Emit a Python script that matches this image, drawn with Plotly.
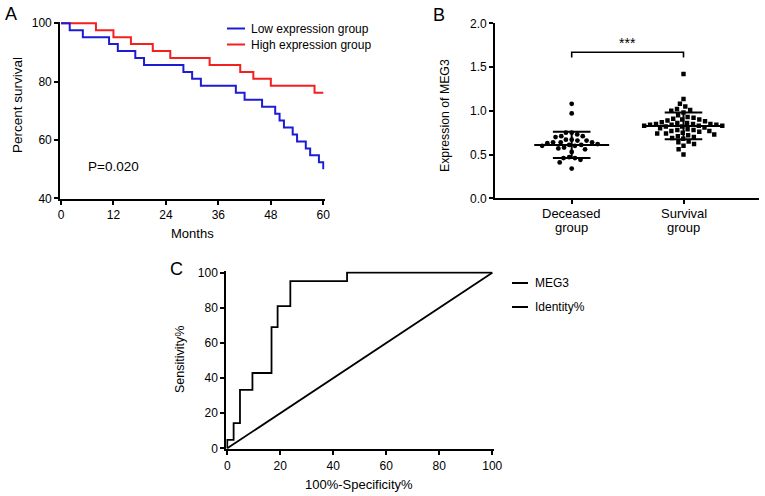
import plotly.graph_objects as go

W, H = 765, 496

# ---------------- Panel A: Kaplan-Meier ----------------
low_months = [0, 2, 5, 11, 13, 17, 19, 28, 30, 32, 40, 42, 46, 49, 50, 51, 53, 54, 56, 57, 59, 60]
low_survival = [100, 97.6, 95.2, 92.9, 90.5, 88.1, 85.7, 83.3, 81.0, 78.6, 76.2, 73.8,
                71.4, 69.0, 66.7, 64.3, 61.9, 59.5, 57.1, 54.8, 52.4, 50.0]
high_months = [0, 8, 12, 16, 21, 25, 34, 41, 44, 48, 58, 60]
high_survival = [100, 97.6, 95.2, 92.9, 90.5, 88.1, 85.7, 83.3, 81.0, 78.6, 76.2, 76.2]
a_xticks = [0, 12, 24, 36, 48, 60]
a_yticks = [40, 60, 80, 100]
p_value_text = "P=0.020"

# ---------------- Panel B: MEG3 expression ----------------
group_names = ["Deceased", "Survival"]
group_suffix = "group"
deceased_values = [1.08, 0.97, 0.75, 0.75, 0.73, 0.71, 0.71, 0.70, 0.67, 0.67, 0.66, 0.66,
                   0.64, 0.64, 0.64, 0.63, 0.62, 0.61, 0.61, 0.60, 0.60, 0.58, 0.57, 0.56,
                   0.53, 0.47, 0.46, 0.46, 0.44, 0.41, 0.34]
survival_values = [1.42, 1.135, 1.08, 1.05, 1.02, 1.01, 1.00, 0.98, 0.95, 0.93, 0.92, 0.91,
                   0.90, 0.90, 0.89, 0.88, 0.87, 0.86, 0.86, 0.85, 0.85, 0.85, 0.84, 0.84,
                   0.84, 0.83, 0.83, 0.83, 0.82, 0.82, 0.81, 0.80, 0.79, 0.78, 0.78, 0.77,
                   0.77, 0.76, 0.75, 0.74, 0.74, 0.73, 0.72, 0.71, 0.70, 0.69, 0.68, 0.65,
                   0.64, 0.62, 0.60, 0.56, 0.50]
group_means = [0.61, 0.825]
group_sd_low = [0.46, 0.675]
group_sd_high = [0.76, 0.98]
sig_level = 1.67
sig_text = "***"
b_yticks = [0.0, 0.5, 1.0, 1.5, 2.0]

# ---------------- Panel C: ROC ----------------
roc_fpr = [0, 0, 2.4, 4.8, 9.5, 16.7, 19.0, 23.8, 45.2, 100]
roc_tpr = [0, 4.8, 14.3, 33.3, 42.9, 69.0, 81.0, 95.2, 100, 100]
identity_x = [0, 100]
identity_y = [0, 100]
c_ticks = [0, 20, 40, 60, 80, 100]

FONT = "Liberation Sans, Arial, Helvetica, sans-serif"
BLUE = "#1c1cd4"
RED = "#f41f1f"


def px_x(p):
    return p / W


def px_y(p):
    return 1 - p / H


# axis geometry in pixels (left, right, top, bottom) and ranges
A_range_x = [-0.2, 60.3]
A_range_y = [39.8, 100.4]
A_box = (60.1, 324.6, 22.1, 198.9)
B_range_x = [-0.686, 1.678]
B_range_y = [0, 2]
B_box = (495.0, 759.3, 23.3, 198.3)
C_range_x = [-0.4, 100.5]
C_range_y = [-0.5, 100.8]
C_box = (226.2, 493.6, 271.3, 449.2)


def swarm(values, ppx, ppy, d):
    """Deterministic beeswarm offsets (in x data units) derived from the values."""
    order = sorted(range(len(values)), key=lambda i: -values[i])
    placed = []
    offs = [0.0] * len(values)
    for i in order:
        y = values[i] * ppy
        near = [(qx, qy) for qx, qy in placed if abs(qy - y) < d]
        cands = [0.0]
        for qx, qy in near:
            dx = (d * d - (qy - y) ** 2) ** 0.5
            cands += [qx + dx, qx - dx]
        cands.sort(key=lambda c: (abs(c), c))
        chosen = 0.0
        for c in cands:
            if all((c - qx) ** 2 + (y - qy) ** 2 >= d * d - 1e-6 for qx, qy in near):
                chosen = c
                break
        placed.append((chosen, y))
        offs[i] = chosen / ppx
    return offs


B_ppx = (B_box[1] - B_box[0]) / (B_range_x[1] - B_range_x[0])
B_ppy = (B_box[3] - B_box[2]) / (B_range_y[1] - B_range_y[0])

dec_off = swarm(deceased_values, B_ppx, B_ppy, 5.8)
sur_off = swarm(survival_values, B_ppx, B_ppy, 6.0)

fig = go.Figure()

# Panel A traces
fig.add_trace(go.Scatter(x=high_months, y=high_survival, mode="lines", line_shape="hv",
                         line=dict(color=RED, width=2), xaxis="x", yaxis="y",
                         name="High expression group", showlegend=False))
fig.add_trace(go.Scatter(x=low_months, y=low_survival, mode="lines", line_shape="hv",
                         line=dict(color=BLUE, width=2), xaxis="x", yaxis="y",
                         name="Low expression group", showlegend=False))

# Panel B traces
fig.add_trace(go.Scatter(x=[0 + o for o in dec_off], y=deceased_values, mode="markers",
                         marker=dict(symbol="circle", size=4.8, color="black"),
                         xaxis="x2", yaxis="y2", showlegend=False))
fig.add_trace(go.Scatter(x=[1 + o for o in sur_off], y=survival_values, mode="markers",
                         marker=dict(symbol="square", size=4.4, color="black"),
                         xaxis="x2", yaxis="y2", showlegend=False))

mx, my = [], []
for g in range(2):
    c = g
    mx += [c - 0.335, c + 0.335, None]
    my += [group_means[g], group_means[g], None]
    mx += [c - 0.168, c + 0.168, None, c - 0.168, c + 0.168, None, c, c, None]
    my += [group_sd_low[g], group_sd_low[g], None, group_sd_high[g], group_sd_high[g], None,
           group_sd_low[g], group_sd_high[g], None]
fig.add_trace(go.Scatter(x=mx, y=my, mode="lines", line=dict(color="black", width=2),
                         xaxis="x2", yaxis="y2", showlegend=False))
fig.add_trace(go.Scatter(x=[0, 0, 1, 1], y=[sig_level - 0.06, sig_level, sig_level, sig_level - 0.06],
                         mode="lines", line=dict(color="black", width=1.6),
                         xaxis="x2", yaxis="y2", showlegend=False))

# Panel C traces
fig.add_trace(go.Scatter(x=identity_x, y=identity_y, mode="lines",
                         line=dict(color="black", width=1.8), xaxis="x3", yaxis="y3",
                         name="Identity%", showlegend=False))
fig.add_trace(go.Scatter(x=roc_fpr, y=roc_tpr, mode="lines", line_shape="hv",
                         line=dict(color="black", width=1.8), xaxis="x3", yaxis="y3",
                         name="MEG3", showlegend=False))

axis_common = dict(showline=True, linecolor="black", linewidth=1.8, ticks="outside",
                   ticklen=4, tickwidth=1.6, tickcolor="black", showgrid=False,
                   zeroline=False, tickfont=dict(size=12, color="black", family=FONT))


def dom_x(box):
    return [px_x(box[0]), px_x(box[1])]


def dom_y(box):
    return [px_y(box[3]), px_y(box[2])]


fig.update_layout(
    width=W, height=H, margin=dict(l=0, r=0, t=0, b=0, autoexpand=False),
    paper_bgcolor="white", plot_bgcolor="white",
    font=dict(family=FONT, color="black", size=12),
    xaxis=dict(domain=dom_x(A_box), range=A_range_x, anchor="y", tickvals=a_xticks, **axis_common),
    yaxis=dict(domain=dom_y(A_box), range=A_range_y, anchor="x", tickvals=a_yticks, **axis_common),
    xaxis2=dict(domain=dom_x(B_box), range=B_range_x, anchor="y2", tickvals=[0, 1],
                showticklabels=False, **axis_common),
    yaxis2=dict(domain=dom_y(B_box), range=B_range_y, anchor="x2", tickvals=b_yticks,
                tickformat=".1f", **axis_common),
    xaxis3=dict(domain=dom_x(C_box), range=C_range_x, anchor="y3", tickvals=c_ticks, **axis_common),
    yaxis3=dict(domain=dom_y(C_box), range=C_range_y, anchor="x3", tickvals=c_ticks, **axis_common),
)

ann = []


def text(x, y, t, size=13, xanchor="center", yanchor="middle", angle=0):
    ann.append(dict(x=px_x(x), y=px_y(y), xref="paper", yref="paper", text=t, showarrow=False,
                    xanchor=xanchor, yanchor=yanchor, textangle=angle,
                    font=dict(size=size, color="black", family=FONT)))


# panel letters
text(11, 14, "A", size=18)
text(439, 15, "B", size=18)
text(176.5, 268.5, "C", size=18)

# axis titles
text(192, 233, "Months", size=13)
text(18, 105, "Percent survival", size=13.5, angle=-90)
text(445, 116, "Expression of MEG3", size=12.3, angle=-90)
text(180, 360, "Sensitivity%", size=12.5, angle=-90)
text(359, 484, "100%-Specificity%", size=13)

# category labels of panel B (two lines each)
for g, name in enumerate(group_names):
    ann.append(dict(x=g, y=px_y(213.5), xref="x2", yref="paper", text=name, showarrow=False,
                    yanchor="middle", font=dict(size=13, color="black", family=FONT)))
    ann.append(dict(x=g, y=px_y(227.5), xref="x2", yref="paper", text=group_suffix, showarrow=False,
                    yanchor="middle", font=dict(size=13, color="black", family=FONT)))

# P value
text(86, 166.5, p_value_text, size=13.5, xanchor="left")

# significance stars
ann.append(dict(x=0.5, y=sig_level + 0.1, xref="x2", yref="y2", text=sig_text, showarrow=False,
                font=dict(size=14, color="black", family=FONT)))

# legends
shapes = []
legend_items = [
    (227, 245, 28.5, BLUE, "Low expression group", 249),
    (227, 245, 44.5, RED, "High expression group", 249),
    (512, 528, 283, "black", "MEG3", 533),
    (512, 528, 307, "black", "Identity%", 533),
]
for x0, x1, yy, col, label, tx in legend_items:
    shapes.append(dict(type="line", xref="paper", yref="paper", x0=px_x(x0), x1=px_x(x1),
                       y0=px_y(yy), y1=px_y(yy), line=dict(color=col, width=2)))
    text(tx, yy, label, size=12, xanchor="left")

fig.update_layout(annotations=ann, shapes=shapes)

# remove the browser's default 8px body margin so the figure sits at the page origin
fig.write_html("out.html", config={"displayModeBar": False},
               post_script="document.body.style.margin='0px';")
